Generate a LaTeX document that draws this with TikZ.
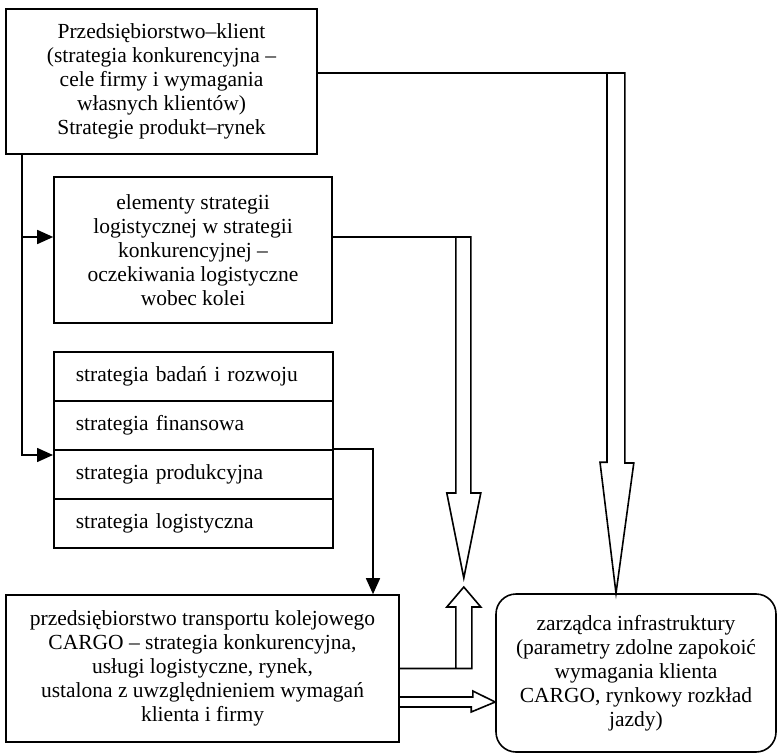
\documentclass[tikz,border=0pt]{standalone}
\usepackage{fontspec}
\setmainfont{Liberation Serif}
\usetikzlibrary{arrows.meta,calc}
\begin{document}
\begin{tikzpicture}[x=1pt,y=-1pt,
  txt/.style={font=\fontsize{21.5}{24}\selectfont},
  box/.style={draw,line width=1.6pt,align=center,inner sep=0pt,txt},
  row/.style={draw,line width=1.6pt,anchor=north west,minimum height=49pt,
    text width=235pt,inner xsep=22pt,inner ysep=0pt,align=left,txt},
  conn/.style={line width=1.6pt,-{Triangle[length=16pt,width=14pt]}},
  hollow/.style={line width=1.6pt,line join=miter}]
\useasboundingbox (0,0) rectangle (779,754);

\node[box,minimum width=311pt,minimum height=145pt] (top) at (161.5,81.5)
  {Przedsiębiorstwo–klient\\(strategia konkurencyjna –\\cele firmy i wymagania\\własnych klientów)\\Strategie produkt–rynek};

\node[box,minimum width=278pt,minimum height=146pt] (elem) at (193,250)
  {elementy strategii\\logistycznej w strategii\\konkurencyjnej –\\oczekiwania logistyczne\\wobec kolei};

\node[row] (s1) at (53,351) {strategia badań i rozwoju};
\node[row] (s2) at (53,400) {strategia finansowa};
\node[row] (s3) at (53,449) {strategia produkcyjna};
\node[row] (s4) at (53,498) {strategia logistyczna};

\node[box,minimum width=393pt,minimum height=147pt] (cargo) at (202.5,668.5)
  {przedsiębiorstwo transportu kolejowego\\CARGO – strategia konkurencyjna,\\usługi logistyczne, rynek,\\ustalona z uwzględnieniem wymagań\\klienta i firmy};

\node[box,rounded corners=20pt,minimum width=280pt,minimum height=158pt] (zarz) at (636,673)
  {zarządca infrastruktury\\(parametry zdolne zapokoić\\wymagania klienta\\CARGO, rynkowy rozkład\\jazdy)};

\coordinate (tipA) at ([xshift=-20pt]zarz.north);
\coordinate (tipB) at ([yshift=-29pt]zarz.west);

% thin connectors
\draw[conn] ([xshift=17pt]top.south west) |- ([yshift=13pt]elem.west);
\draw[conn] ([xshift=17pt]top.south west) |- ([yshift=-6pt]s3.north west);
\draw[conn] (s3.north east) -| ([xshift=170.5pt]cargo.north);

% big hollow arrow top -> zarzadca
\draw[hollow] ([yshift=8.5pt]top.east) -- ++(307,0) -- ++(0,390) -- ++(9,0)
  -- (tipA) -- ++(-16,-131) -- ++(7,0) -- ++(0,-390);

% hollow arrow from elementy downward
\draw[hollow] ([yshift=13pt]elem.east) -- ++(138,0) -- ++(0,256) -- ++(10,0)
  -- ++(-17,85) -- ++(-17,-85) -- ++(9,0) -- ++(0,-256);

% hollow arrow from cargo upward
\draw[hollow] (cargo.east) -- ++(72,0) -- ++(0,-61.5) -- ++(9,0)
  -- ++(-17,-20) -- ++(-17,20) -- ++(9,0) -- ++(0,61.5);

% hollow arrow cargo -> zarzadca
\draw[hollow] ([yshift=-28.5pt]cargo.east) -- ++(73,0) -- ++(0,-6)
  -- (tipB) -- ++(-24,10) -- ++(0,-5) -- ++(-73,0);
\end{tikzpicture}
\end{document}
